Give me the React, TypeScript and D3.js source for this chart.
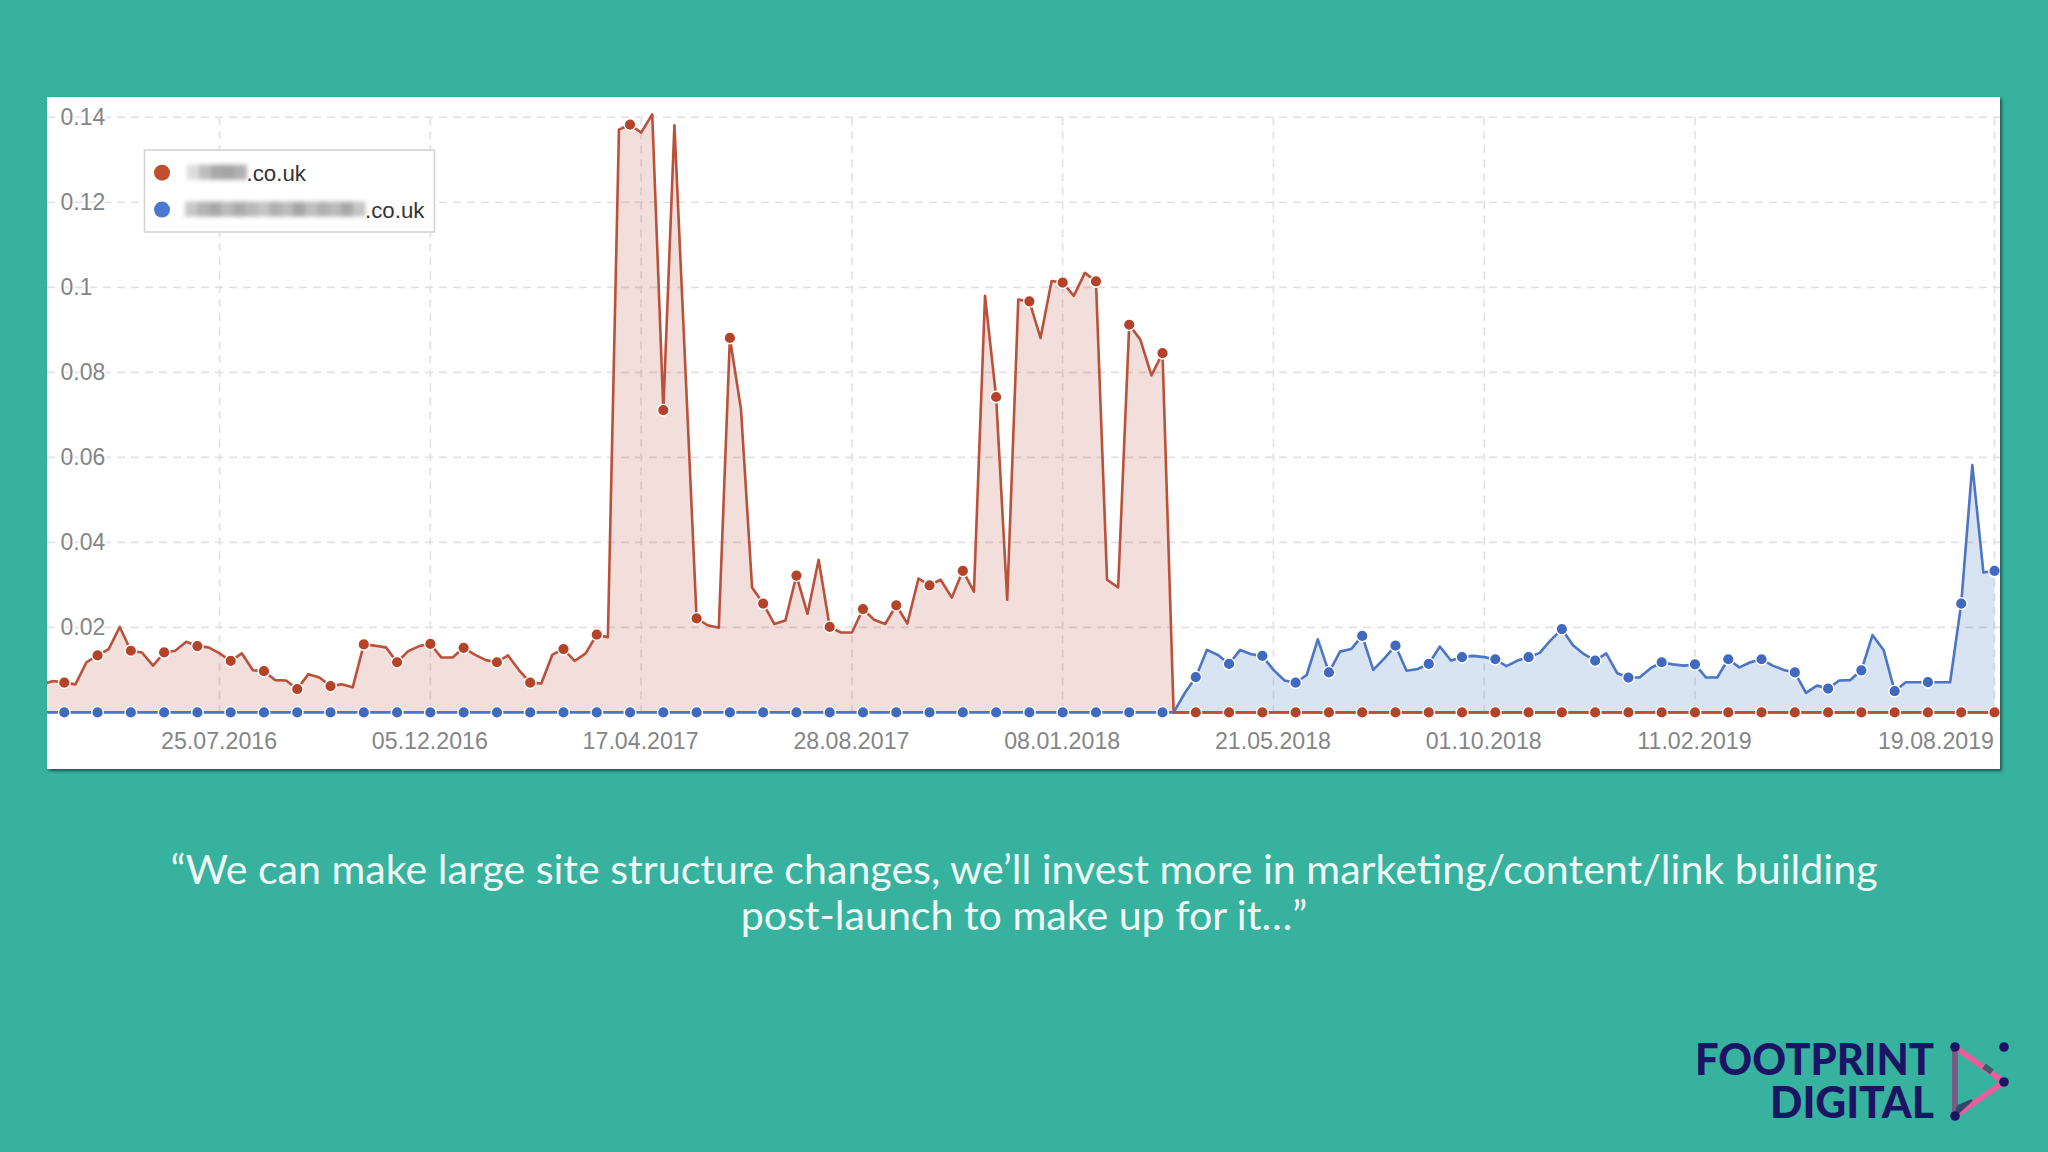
import * as d3 from 'd3';
import { useEffect, useRef } from 'react';

const firstWeek = '04.04.2016';
const tickDates = ['25.07.2016', '05.12.2016', '17.04.2017', '28.08.2017', '08.01.2018', '21.05.2018', '01.10.2018', '11.02.2019', '19.08.2019'];
const yTicks = [0.02, 0.04, 0.06, 0.08, 0.1, 0.12, 0.14];

// weekly visibility values, one per week from firstWeek
const redValues = [
    .0066, .0074, .007, .0066, .0118, .0134, .0149, .0201, .0145, .0141,
    .011, .0141, .0145, .0166, .0156, .0153,
    .0139, .0121, .0139, .0099, .0097, .0076, .0075, .0055, .009, .0082,
    .0062, .0066, .0059, .016, .0157, .0153, .0118, .0144, .0156, .0161,
    .0129, .0129, .0152, .0136, .0123, .0118, .0134, .0099, .007, .0068,
    .0136, .0149, .0121, .0139, .0183, .0177, .1371, .1383, .1364, .1407,
    .0711, .1381, .0802, .0221, .0205, .0199, .0881, .0713, .0294, .0256,
    .0208, .0216, .0322, .0232, .0359, .0201, .0188, .0188, .0243, .0218,
    .0208, .0252, .0209, .0315, .0299, .0312, .027, .0333, .0284, .098,
    .0742, .0265, .0971, .0967, .0881, .1015, .1011, .098, .1034, .1014,
    .0312, .0294, .0912, .0877, .0793, .0845, 0,
    0, 0, 0, 0, 0, 0, 0, 0, 0, 0,
    0, 0, 0, 0, 0, 0, 0, 0, 0, 0,
    0, 0, 0, 0, 0, 0, 0, 0, 0, 0,
    0, 0, 0, 0, 0, 0, 0, 0, 0, 0,
    0, 0, 0, 0, 0, 0, 0, 0, 0, 0,
    0, 0, 0, 0, 0, 0, 0, 0, 0, 0,
    0, 0, 0, 0, 0, 0, 0, 0, 0, 0,
    0, 0, 0, 0,
];

const blueValues = [
    0, 0, 0, 0, 0, 0, 0, 0, 0, 0,
    0, 0, 0, 0, 0, 0, 0, 0, 0, 0,
    0, 0, 0, 0, 0, 0, 0, 0, 0, 0,
    0, 0, 0, 0, 0, 0, 0, 0, 0, 0,
    0, 0, 0, 0, 0, 0, 0, 0, 0, 0,
    0, 0, 0, 0, 0, 0, 0, 0, 0, 0,
    0, 0, 0, 0, 0, 0, 0, 0, 0, 0,
    0, 0, 0, 0, 0, 0, 0, 0, 0, 0,
    0, 0, 0, 0, 0, 0, 0, 0, 0, 0,
    0, 0, 0, 0, 0, 0, 0, 0, 0, 0,
    0, 0, 0,
    .0045, .0083, .0147, .0135, .0114, .0147, .0137, .0133, .01, .0075,
    .007, .0088, .0172, .0094, .0143, .0149, .018, .01, .0127, .0157,
    .0098, .0102, .0114, .0155, .0122, .013, .0133, .013, .0125, .0109,
    .0122, .013, .014, .017, .0196, .0158, .0137, .0122, .0139, .0092,
    .0082, .0082, .0104, .0118, .0113, .011, .0113, .0082, .0082, .0125,
    .0106, .0118, .0125, .011, .01, .0094, .0046, .0063, .0056, .0075,
    .0076, .0099, .0182, .0147, .005, .0071, .0071, .0071, .0071, .0071,
    .0256, .0582, .0329, .0333,
];

const legendSuffix = '.co.uk';
// grey levels of the pixelated site names in the legend
const redNameShades = ['#dcdcdc', '#bdbdbd', '#a8a8a8', '#a4a4a4', '#b0b0b0'];
const blueNameShades = ['#c8c8c8', '#b4b4b4', '#a8a8a8', '#bcbcbc', '#aaaaaa', '#b8b8b8', '#c4c4c4', '#b0b0b0', '#bcbcbc', '#a6a6a6', '#c0c0c0', '#b0b0b0', '#bababa', '#a8a8a8', '#c6c6c6'];

const quoteLines = [
    '“We can make large site structure changes, we’ll invest more in marketing/content/link building',
    'post-launch to make up for it…”',
];

const teal = '#37b29e';
const navy = '#1b1464';
const red = '#ba513a';
const blue = '#4c75c4';

const parseDate = d3.utcParse('%d.%m.%Y');

const App = () => {
    const ref = useRef<SVGSVGElement>(null);

    useEffect(() => {
        drawChart();
    }, []);

    const drawChart = () => {
        const svg: any = d3.select(ref.current);
        svg.selectAll('*').remove();

        const panel = { x: 47, y: 97, w: 1953, h: 672 };
        const defs = svg.append('defs');
        const shadow = defs.append('filter').attr('id', 'shadow').attr('x', '-2%').attr('y', '-2%').attr('width', '104%').attr('height', '104%');
        shadow.append('feDropShadow').attr('dx', 2).attr('dy', 2).attr('stdDeviation', 1.5).attr('flood-color', '#12403a').attr('flood-opacity', 0.8);
        defs.append('filter').attr('id', 'blur').attr('x', '-10%').attr('y', '-30%').attr('width', '120%').attr('height', '160%')
            .append('feGaussianBlur').attr('stdDeviation', 2);
        defs.append('clipPath').attr('id', 'plot').append('rect')
            .attr('x', panel.x).attr('y', panel.y).attr('width', panel.w).attr('height', panel.h);

        svg.append('rect').attr('width', 2048).attr('height', 1152).attr('fill', teal);
        svg.append('rect')
            .attr('x', panel.x).attr('y', panel.y).attr('width', panel.w).attr('height', panel.h)
            .attr('fill', '#fff').attr('filter', 'url(#shadow)');

        const start: any = parseDate(firstWeek);
        const weeks = redValues.map((_, i) => d3.utcWeek.offset(start, i));
        const ticks: any[] = tickDates.map((d) => parseDate(d));

        const x = d3.scaleUtc().domain([ticks[0], ticks[ticks.length - 1]]).range([219.6, 1994.5]);
        const y = d3.scaleLinear().domain([0, 0.14]).range([712.4, 117.3]);

        // grid
        const grid = svg.append('g').attr('stroke', '#e2e0e6').attr('stroke-width', 1.6).attr('stroke-dasharray', '8 6');
        grid.selectAll('.h').data(yTicks).enter().append('line')
            .attr('x1', panel.x).attr('x2', panel.x + panel.w)
            .attr('y1', (d: number) => y(d)).attr('y2', (d: number) => y(d));
        grid.selectAll('.v').data(ticks).enter().append('line')
            .attr('x1', (d: Date) => x(d)).attr('x2', (d: Date) => x(d))
            .attr('y1', y(0.14)).attr('y2', y(0));

        const plot = svg.append('g').attr('clip-path', 'url(#plot)');
        const line: any = d3.line<number>().x((_, i) => x(weeks[i])).y((d) => y(d));
        const area: any = d3.area<number>().x((_, i) => x(weeks[i])).y0(y(0)).y1((d) => y(d));

        plot.append('path').attr('d', area(redValues)).attr('fill', '#bb4f38').attr('fill-opacity', 0.19);
        plot.append('path').attr('d', area(blueValues)).attr('fill', '#3f7ac0').attr('fill-opacity', 0.2);
        plot.append('path').attr('d', line(redValues)).attr('fill', 'none').attr('stroke', red).attr('stroke-width', 2.6).attr('stroke-linejoin', 'round');
        plot.append('path').attr('d', line(blueValues)).attr('fill', 'none').attr('stroke', blue).attr('stroke-width', 2.6).attr('stroke-linejoin', 'round');

        // red baseline sits over the blue one once the blue series takes off
        const redTail = d3.line<number>()
            .defined((d, i) => i >= redValues.indexOf(0))
            .x((_, i) => x(weeks[i])).y((d) => y(d));
        plot.append('path').attr('d', redTail(redValues)).attr('fill', 'none').attr('stroke', red).attr('stroke-width', 2.6);

        const dots = (values: number[], color: string) => {
            plot.selectAll(null)
                .data(values.map((v, i) => ({ v, i })).filter((d) => d.i % 3 === 2))
                .enter().append('circle')
                .attr('cx', (d: any) => x(weeks[d.i]))
                .attr('cy', (d: any) => y(d.v))
                .attr('r', 5.8)
                .attr('fill', color)
                .attr('stroke', '#fff')
                .attr('stroke-width', 1.4);
        };
        dots(blueValues, '#4169c0');
        dots(redValues, '#b5432a');

        // axes
        const yAxis = svg.append('g')
            .call(d3.axisLeft(y).tickValues(yTicks).tickSize(0).tickFormat((d: any) => String(d)));
        yAxis.select('.domain').remove();
        yAxis.selectAll('text')
            .attr('x', 60.5).attr('text-anchor', 'start').attr('dy', '0.3em')
            .style('font-family', '"Liberation Sans", Arial, sans-serif').style('font-size', '23px')
            .attr('fill', '#858585').attr('stroke', '#fff').attr('stroke-width', 4).attr('paint-order', 'stroke');

        const xAxis = svg.append('g').attr('transform', 'translate(-1,712.4)')
            .call(d3.axisBottom(x).tickValues(ticks).tickSize(0).tickFormat((_: any, i: number) => tickDates[i]));
        xAxis.select('.domain').remove();
        xAxis.selectAll('text')
            .attr('y', 37).attr('dy', 0)
            .style('font-family', '"Liberation Sans", Arial, sans-serif').style('font-size', '23.2px')
            .attr('fill', '#858585')
            .attr('text-anchor', (_: any, i: number) => (i === tickDates.length - 1 ? 'end' : 'middle'));

        // legend
        const legend = svg.append('g');
        legend.append('rect').attr('x', 144.5).attr('y', 150).attr('width', 290).attr('height', 82)
            .attr('fill', '#fff').attr('stroke', '#d4d4d6').attr('stroke-width', 1.6);
        const rows = [
            { color: '#bf4f2c', cy: 172.7, x0: 187, textX: 246.5, shades: redNameShades },
            { color: '#4a78d2', cy: 209.6, x0: 185, textX: 365, shades: blueNameShades },
        ];
        rows.forEach((r) => {
            legend.append('circle').attr('cx', 162).attr('cy', r.cy).attr('r', 8).attr('fill', r.color);
            const cell = (r.textX - r.x0) / r.shades.length;
            legend.append('g').attr('filter', 'url(#blur)').selectAll('rect').data(r.shades).enter().append('rect')
                .attr('x', (_: any, i: number) => r.x0 + i * cell).attr('y', r.cy - 8)
                .attr('width', cell + 0.5).attr('height', 15)
                .attr('fill', (d: string) => d);
            legend.append('text').text(legendSuffix).attr('x', r.textX).attr('y', r.cy + 8)
                .attr('font-family', '"Liberation Sans", Arial, sans-serif').attr('font-size', 22.3).attr('fill', '#333');
        });

        // quote
        svg.append('g').selectAll('text').data(quoteLines).enter().append('text')
            .text((d: string) => d)
            .attr('x', 1024).attr('y', (_: any, i: number) => 884 + i * 46)
            .attr('text-anchor', 'middle')
            .attr('font-family', 'Lato, "Open Sans", sans-serif').attr('font-size', 41.13)
            .attr('fill', '#eef8f5');

        // logo
        const logo = svg.append('g').attr('fill', navy)
            .attr('font-family', 'Lato, sans-serif').attr('font-weight', 900).attr('font-size', 43).attr('text-anchor', 'end')
            .attr('lengthAdjust', 'spacingAndGlyphs');
        logo.append('text').text('FOOTPRINT').attr('x', 1934).attr('y', 1075).attr('textLength', 239).attr('lengthAdjust', 'spacingAndGlyphs');
        logo.append('text').text('DIGITAL').attr('x', 1934).attr('y', 1118).attr('textLength', 164).attr('lengthAdjust', 'spacingAndGlyphs');

        const mark = svg.append('g');
        mark.append('path').attr('d', 'M1955 1047L1955 1116').attr('stroke', '#7a5a85').attr('stroke-width', 6);
        mark.append('path').attr('d', 'M1955 1047L2004 1082L1955 1116').attr('fill', 'none').attr('stroke', '#ee5a9c').attr('stroke-width', 5.5);
        mark.append('path').attr('d', 'M1984 1066L1992 1072').attr('stroke', '#3f5a70').attr('stroke-width', 6);
        mark.append('path').attr('d', 'M1955 1116L1972 1100L1958 1106Z').attr('fill', '#2f4a66').attr('stroke', '#2f4a66').attr('stroke-width', 2);
        [[1955, 1047], [2004, 1047], [2004, 1082], [1955, 1116]].forEach(([cx, cy]) => {
            mark.append('circle').attr('cx', cx).attr('cy', cy).attr('r', 4.8).attr('fill', navy);
        });
    };

    return (
        <svg ref={ref} width={2048} height={1152} style={{ position: 'fixed', left: 0, top: 0, display: 'block' }} />
    );
};

export default App;
